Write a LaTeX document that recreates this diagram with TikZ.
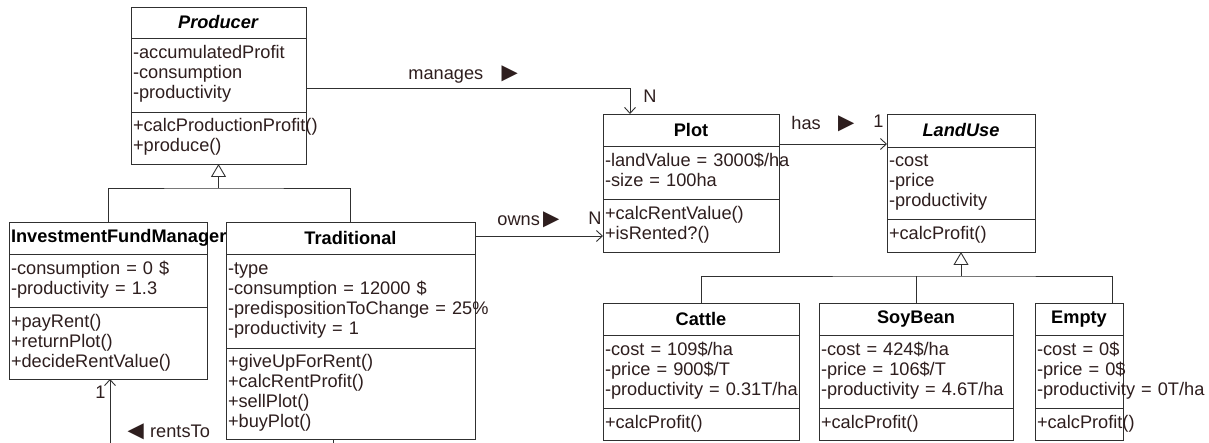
\documentclass[tikz,border=0pt]{standalone}
\usepackage{fontspec}
\setmainfont{Liberation Sans}
\usetikzlibrary{positioning,arrows.meta}
\definecolor{umlline}{HTML}{303030}
\definecolor{umltext}{HTML}{2E1E1E}
\newcommand{\umlsize}{\fontsize{18.2}{20}\selectfont}
\newcommand{\umlrows}[1]{\begin{tabular}{@{}l@{}}#1\end{tabular}}
\newcommand{\dirright}{\raisebox{-2pt}{\fontsize{27}{27}\selectfont►}}
\newcommand{\dirleft}{\raisebox{-2pt}{\fontsize{27}{27}\selectfont◄}}
\tikzset{
	classname/.style={draw=umlline, outer sep=0pt, inner xsep=2pt, inner ysep=0pt, text width=#1, align=center, font=\umlsize\bfseries},
	classpart/.style={draw=umlline, outer sep=0pt, inner xsep=2pt, inner ysep=0pt, text width=#1, align=left, text=umltext},
	inherit/.style={draw=umlline, -{Triangle[open, length=13pt, width=15pt]}},
	assoc/.style={draw=umlline, -{Straight Barb[length=6pt, width=11pt]}},
	link/.style={draw=umlline},
	lbl/.style={inner sep=0pt, text=umltext, anchor=base west},
}
\begin{document}
\begin{tikzpicture}[x=1pt, y=1pt, font=\umlsize, line width=0.9pt]
		\path[use as bounding box, fill=white] (0,0) rectangle (1209,-443);

		% Define nodes
		\node[classname=171pt, minimum height=31pt, anchor=north west] (prod) at (131,-7) {\textit{Producer}};
		\node[classpart=171pt, minimum height=74pt, below=0pt of prod] (prod-a) {\umlrows{-accumulatedProfit\\-consumption\\-productivity}};
		\node[classpart=171pt, minimum height=52pt, below=0pt of prod-a] (prod-o) {\umlrows{+calcProductionProfit()\\+produce()}};

		\node[classname=194pt, minimum height=32pt, anchor=north west] (ifm) at (9,-222) {InvestmentFundManager};
		\node[classpart=194pt, minimum height=53pt, below=0pt of ifm] (ifm-a) {\umlrows{-consumption = 0 \$\\-productivity = 1.3}};
		\node[classpart=194pt, minimum height=72pt, below=0pt of ifm-a] (ifm-o) {\umlrows{+payRent()\\+returnPlot()\\+decideRentValue()}};

		\node[classname=245pt, minimum height=32pt, anchor=north west] (trad) at (226,-222) {Traditional};
		\node[classpart=245pt, minimum height=94pt, below=0pt of trad] (trad-a) {\umlrows{-type\\-consumption = 12000 \$\\-predispositionToChange = 25\%\\-productivity = 1}};
		\node[classpart=245pt, minimum height=91pt, below=0pt of trad-a] (trad-o) {\umlrows{+giveUpForRent()\\+calcRentProfit()\\+sellPlot()\\+buyPlot()}};

		\node[classname=172pt, minimum height=32pt, anchor=north west] (plot) at (603,-114) {Plot};
		\node[classpart=172pt, minimum height=53pt, below=0pt of plot] (plot-a) {\umlrows{-landValue = 3000\$/ha\\-size = 100ha}};
		\node[classpart=172pt, minimum height=53pt, below=0pt of plot-a] (plot-o) {\umlrows{+calcRentValue()\\+isRented?()}};

		\node[classname=144pt, minimum height=33pt, anchor=north west] (lu) at (887,-114) {\textit{LandUse}};
		\node[classpart=144pt, minimum height=72pt, below=0pt of lu] (lu-a) {\umlrows{-cost\\-price\\-productivity}};
		\node[classpart=144pt, minimum height=33pt, below=0pt of lu-a] (lu-o) {\umlrows{+calcProfit()}};

		\node[classname=192pt, minimum height=32pt, anchor=north west] (cattle) at (603,-303) {Cattle};
		\node[classpart=192pt, minimum height=73pt, below=0pt of cattle] (cattle-a) {\umlrows{-cost = 109\$/ha\\-price = 900\$/T\\-productivity = 0.31T/ha}};
		\node[classpart=192pt, minimum height=32pt, below=0pt of cattle-a] (cattle-o) {\umlrows{+calcProfit()}};

		\node[classname=190pt, minimum height=32pt, anchor=north west] (soy) at (819,-303) {SoyBean};
		\node[classpart=190pt, minimum height=73pt, below=0pt of soy] (soy-a) {\umlrows{-cost = 424\$/ha\\-price = 106\$/T\\-productivity = 4.6T/ha}};
		\node[classpart=190pt, minimum height=32pt, below=0pt of soy-a] (soy-o) {\umlrows{+calcProfit()}};

		\node[classname=84pt, minimum height=32pt, anchor=north west] (empty) at (1035,-303) {Empty};
		\node[classpart=84pt, minimum height=73pt, below=0pt of empty] (empty-a) {\umlrows{-cost = 0\$\\-price = 0\$\\-productivity = 0T/ha}};
		\node[classpart=84pt, minimum height=32pt, below=0pt of empty-a] (empty-o) {\umlrows{+calcProfit()}};

		% Labels
		\node[lbl] (manages) at (408,-80) {manages\hspace{13pt}\dirright};
		\node[lbl] (manages-n) at (643,-103) {N};
		\node[lbl] (owns) at (497,-226) {owns\hspace{-2pt}\dirright};
		\node[lbl] (owns-n) at (588,-225) {N};
		\node[lbl] (has) at (791,-130) {has\hspace{12pt}\dirright};
		\node[lbl] (has-1) at (873,-128) {1};
		\node[lbl] (rents) at (122,-437) {\dirleft\hspace{1pt}rentsTo};
		\node[lbl] (rents-1) at (95,-398) {1};

		% Connect the nodes
		\coordinate[below=24pt of prod-o] (prod-fork);
		\draw[inherit] (prod-fork) -- (prod-o.south);
		\draw[link] (ifm.north) |- (prod-fork) -| (trad.north);

		\coordinate[below=24pt of lu-o] (lu-fork);
		\draw[inherit] (lu-fork) -- (lu-o.south);
		\draw[link] (cattle.north) |- (lu-fork) -| ([xshift=33pt]empty.north);
		\draw[link] (soy.north) -- (soy.north |- lu-fork);

		\draw[assoc] ([yshift=-13pt]prod-a.east) -| ([xshift=-61pt]plot.north);
		\draw[assoc] ([yshift=2pt]trad.east) -- ([yshift=2pt]trad.east -| plot-o.west);
		\draw[assoc] ([yshift=-14pt]plot.east) -- ([yshift=-14pt]plot.east -| lu.west);

		\coordinate (rent-end) at (110,-443);
		\draw[assoc] (rent-end) -- (rent-end |- ifm-o.south);
		\coordinate (buy-end) at (333,-443);
		\draw[link] (buy-end |- trad-o.south) -- (buy-end);

	\end{tikzpicture}
\end{document}
